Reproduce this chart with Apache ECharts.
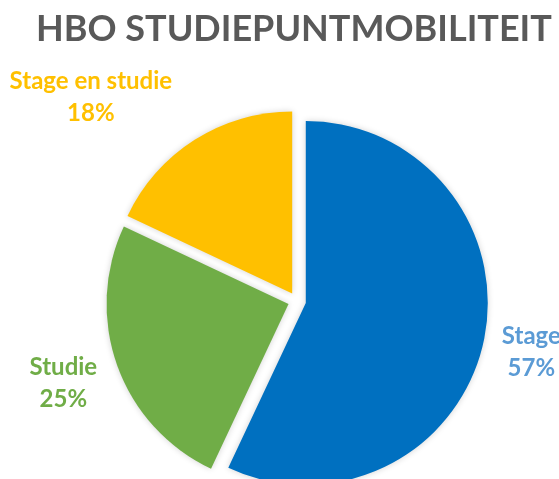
<!DOCTYPE html>
<html>
<head>
<meta charset="utf-8">
<script src="https://cdn.jsdelivr.net/npm/echarts@6/dist/echarts.min.js"></script>
<style>
  html, body { margin: 0; padding: 0; background: #fff; }
  #chart { width: 559px; height: 479px; }
</style>
</head>
<body>
<div id="chart"></div>
<script>
  // data
  const categories = ['Stage', 'Studie', 'Stage en studie']
  const percentages = [57, 25, 18]
  const sliceColors = ['#0070C0', '#70AD47', '#FFC000']
  const labelColors = ['#5B9BD5', '#70AD47', '#FFC000']

  const chart = echarts.init(document.getElementById('chart'))

  // label distance per slice (invisible label lines)
  const lineLen = [44, 52, 50]
  const lineLen2 = [0, 0, 72]

  const pieData = categories.map((name, i) => ({
    name: name,
    value: percentages[i],
    selected: true,
    itemStyle: { color: sliceColors[i] },
    label: { color: labelColors[i] },
    labelLine: { length: lineLen[i], length2: lineLen2[i] }
  }))

  chart.setOption({
    animation: false,
    title: {
      text: 'HBO STUDIEPUNTMOBILITEIT',
      left: 31,
      top: 6,
      textStyle: {
        fontFamily: 'Lato',
        fontWeight: 'bold',
        fontSize: 36,
        color: '#595959'
      }
    },
    series: [{
      type: 'pie',
      center: [297, 301],
      radius: 182,
      startAngle: 90,
      clockwise: true,
      selectedMode: 'multiple',
      selectedOffset: 9,
      avoidLabelOverlap: false,
      itemStyle: {
        shadowBlur: 6,
        shadowColor: 'rgba(0,0,0,0.18)'
      },
      label: {
        show: true,
        position: 'outside',
        formatter: '{b}\n{c}%',
        fontFamily: 'Lato',
        fontWeight: 'bold',
        fontSize: 24,
        lineHeight: 32
      },
      labelLine: { show: false },
      labelLayout: { align: 'center', verticalAlign: 'middle' },
      emphasis: { disabled: true },
      data: pieData
    }]
  })
</script>
</body>
</html>
